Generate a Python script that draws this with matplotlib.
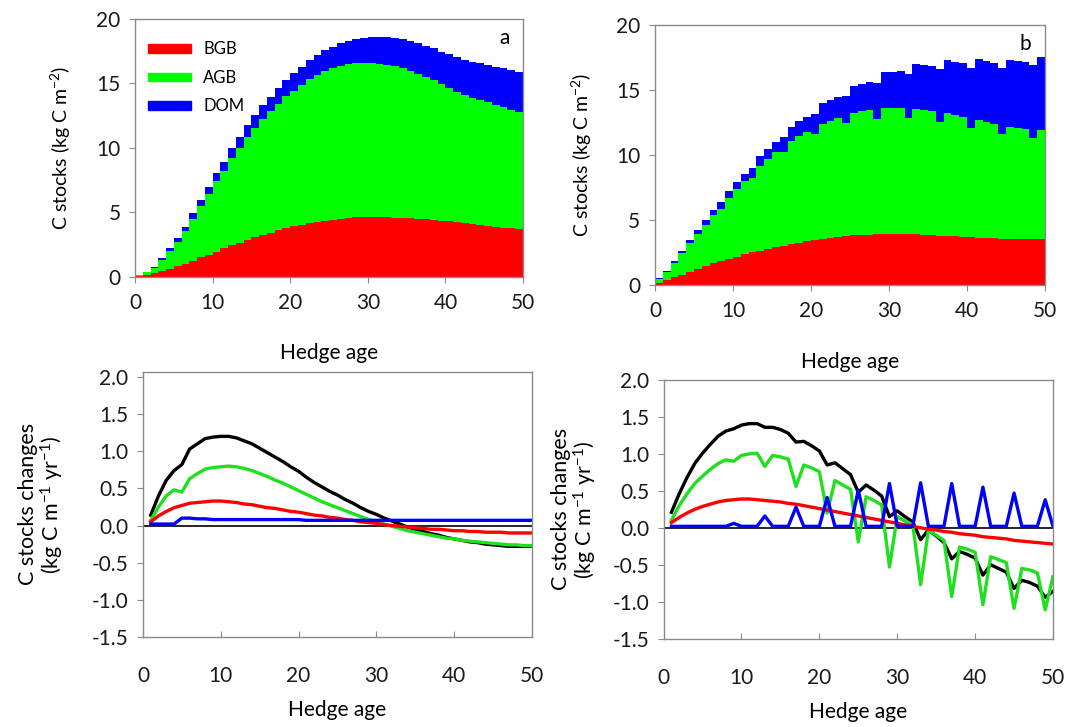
import matplotlib
matplotlib.use("Agg")
import matplotlib.pyplot as plt
import numpy as np
from matplotlib.patches import Patch

plt.rcParams['font.family'] = ['Lato', 'DejaVu Sans']
plt.rcParams['axes.unicode_minus'] = False
plt.rcParams['mathtext.fontset'] = 'custom'
plt.rcParams['mathtext.rm'] = 'Lato'
plt.rcParams['mathtext.it'] = 'Lato:italic'

# ── data ──
age = np.arange(1, 51)

# (a) stocks, kg C m-2
bgb_a = [0.03, 0.10, 0.25, 0.42, 0.60, 0.80, 1.00, 1.25, 1.50, 1.72,
         1.95, 2.20, 2.42, 2.65, 2.85, 3.05, 3.25, 3.42, 3.60, 3.75,
         3.90, 4.03, 4.15, 4.26, 4.35, 4.43, 4.50, 4.55, 4.59, 4.61,
         4.62, 4.62, 4.60, 4.58, 4.55, 4.52, 4.48, 4.44, 4.39, 4.34,
         4.28, 4.22, 4.16, 4.09, 4.02, 3.95, 3.88, 3.81, 3.74, 3.67]
agb_a = [0.08, 0.24, 0.43, 0.85, 1.40, 1.90, 2.55, 3.26, 3.97, 4.71,
         5.44, 6.01, 6.76, 7.35, 7.99, 8.48, 8.99, 9.39, 9.79, 10.22,
         10.51, 10.83, 11.16, 11.36, 11.60, 11.71, 11.84, 11.92, 11.95, 11.98,
         11.93, 11.87, 11.83, 11.77, 11.63, 11.45, 11.25, 11.02, 10.83, 10.56,
         10.36, 10.12, 9.92, 9.80, 9.68, 9.56, 9.44, 9.32, 9.20, 9.08]
dom_a = [0.02, 0.05, 0.10, 0.15, 0.20, 0.27, 0.33, 0.40, 0.47, 0.55,
         0.62, 0.70, 0.77, 0.85, 0.92, 1.00, 1.07, 1.14, 1.21, 1.28,
         1.35, 1.42, 1.49, 1.56, 1.62, 1.69, 1.75, 1.82, 1.88, 1.94,
         2.00, 2.06, 2.12, 2.18, 2.24, 2.30, 2.36, 2.42, 2.48, 2.54,
         2.60, 2.66, 2.72, 2.78, 2.84, 2.90, 2.96, 3.02, 3.08, 3.14]

# (b) stocks, kg C m-2
bgb_b = [0.15, 0.40, 0.60, 0.80, 1.00, 1.22, 1.45, 1.67, 1.85, 2.02,
         2.18, 2.35, 2.50, 2.63, 2.76, 2.89, 3.01, 3.13, 3.25, 3.37,
         3.46, 3.55, 3.63, 3.70, 3.76, 3.81, 3.85, 3.88, 3.91, 3.92,
         3.93, 3.93, 3.91, 3.89, 3.86, 3.83, 3.80, 3.77, 3.74, 3.71,
         3.67, 3.64, 3.61, 3.59, 3.57, 3.55, 3.54, 3.53, 3.52, 3.51]
agb_b = [0.30, 0.60, 1.10, 1.65, 2.20, 2.73, 3.20, 3.68, 4.00, 4.68,
         5.17, 5.65, 5.75, 6.52, 6.94, 7.31, 7.24, 7.92, 8.20, 8.43,
         8.14, 8.85, 9.02, 9.15, 8.69, 9.39, 9.50, 9.57, 8.89, 9.68,
         9.69, 9.69, 8.94, 9.66, 9.62, 9.57, 8.75, 9.43, 9.34, 9.24,
         8.40, 9.06, 8.94, 8.81, 8.01, 8.60, 8.51, 8.44, 7.80, 8.39]
dom_b = [0.05, 0.10, 0.15, 0.20, 0.25, 0.30, 0.35, 0.40, 0.50, 0.52,
         0.54, 0.56, 0.75, 0.77, 0.79, 0.81, 1.10, 1.12, 1.14, 1.16,
         1.55, 1.57, 1.59, 1.61, 2.10, 2.12, 2.14, 2.16, 2.75, 2.77,
         2.79, 2.81, 3.40, 3.42, 3.44, 3.46, 4.05, 4.07, 4.09, 4.11,
         4.65, 4.67, 4.69, 4.71, 5.15, 5.17, 5.19, 5.21, 5.60, 5.62]

# (c) stock changes, kg C m-1 yr-1
tot_c = [0.14, 0.40, 0.61, 0.74, 0.82, 1.03, 1.10, 1.17, 1.19, 1.20,
         1.20, 1.18, 1.14, 1.10, 1.04, 0.98, 0.92, 0.86, 0.79, 0.73,
         0.65, 0.58, 0.52, 0.46, 0.41, 0.35, 0.30, 0.24, 0.19, 0.15,
         0.10, 0.06, 0.02, -0.02, -0.05, -0.08, -0.11, -0.13, -0.16, -0.18,
         -0.20, -0.22, -0.23, -0.25, -0.26, -0.27, -0.28, -0.28, -0.28, -0.28]
agb_c = [0.07, 0.25, 0.40, 0.48, 0.45, 0.63, 0.70, 0.76, 0.78, 0.79,
         0.80, 0.79, 0.77, 0.74, 0.70, 0.66, 0.61, 0.57, 0.52, 0.47,
         0.42, 0.37, 0.32, 0.28, 0.24, 0.20, 0.16, 0.12, 0.08, 0.05,
         0.02, -0.01, -0.04, -0.07, -0.09, -0.11, -0.13, -0.15, -0.17, -0.18,
         -0.20, -0.21, -0.22, -0.23, -0.24, -0.25, -0.26, -0.26, -0.27, -0.27]
bgb_c = [0.05, 0.13, 0.19, 0.24, 0.27, 0.30, 0.31, 0.32, 0.33, 0.33,
         0.32, 0.31, 0.29, 0.28, 0.26, 0.24, 0.23, 0.21, 0.19, 0.18,
         0.16, 0.14, 0.13, 0.11, 0.10, 0.08, 0.07, 0.05, 0.04, 0.03,
         0.01, 0.00, -0.01, -0.02, -0.03, -0.04, -0.05, -0.05, -0.06, -0.07,
         -0.07, -0.08, -0.08, -0.09, -0.09, -0.09, -0.10, -0.10, -0.10, -0.10]
dom_c = [0.02, 0.02, 0.02, 0.02, 0.10, 0.10, 0.09, 0.09, 0.08, 0.08,
         0.08, 0.08, 0.08, 0.08, 0.08, 0.08, 0.08, 0.08, 0.08, 0.08,
         0.07, 0.07, 0.07, 0.07, 0.07, 0.07, 0.07, 0.07, 0.07, 0.07,
         0.07, 0.07, 0.07, 0.07, 0.07, 0.07, 0.07, 0.07, 0.07, 0.07,
         0.07, 0.07, 0.07, 0.07, 0.07, 0.07, 0.07, 0.07, 0.07, 0.07]

# (d) stock changes, kg C m-1 yr-1
tot_d = [0.21, 0.46, 0.68, 0.87, 1.01, 1.13, 1.24, 1.31, 1.34, 1.39,
         1.41, 1.41, 1.36, 1.36, 1.33, 1.28, 1.16, 1.17, 1.11, 1.04,
         0.85, 0.88, 0.80, 0.72, 0.48, 0.58, 0.51, 0.43, 0.15, 0.23,
         0.15, 0.08, -0.16, -0.03, -0.11, -0.20, -0.42, -0.32, -0.36, -0.41,
         -0.64, -0.50, -0.55, -0.60, -0.82, -0.71, -0.74, -0.79, -0.94, -0.86]
agb_d = [0.10, 0.30, 0.46, 0.60, 0.70, 0.79, 0.87, 0.92, 0.90, 0.98,
         1.00, 1.01, 0.83, 0.98, 0.96, 0.93, 0.56, 0.85, 0.81, 0.76,
         0.20, 0.64, 0.58, 0.52, -0.19, 0.42, 0.37, 0.31, -0.53, 0.15,
         0.09, 0.04, -0.77, -0.03, -0.10, -0.17, -0.93, -0.26, -0.29, -0.33,
         -1.04, -0.39, -0.43, -0.47, -1.09, -0.55, -0.57, -0.61, -1.11, -0.66]
bgb_d = [0.07, 0.14, 0.20, 0.25, 0.29, 0.32, 0.35, 0.37, 0.38, 0.39,
         0.39, 0.38, 0.37, 0.36, 0.35, 0.33, 0.32, 0.30, 0.28, 0.26,
         0.24, 0.22, 0.20, 0.18, 0.16, 0.14, 0.12, 0.10, 0.08, 0.06,
         0.04, 0.02, 0.00, -0.02, -0.03, -0.05, -0.06, -0.08, -0.09, -0.10,
         -0.12, -0.13, -0.14, -0.15, -0.17, -0.18, -0.19, -0.20, -0.21, -0.22]
dom_d = [0.02, 0.02, 0.02, 0.02, 0.02, 0.02, 0.02, 0.02, 0.06, 0.02,
         0.02, 0.02, 0.16, 0.02, 0.02, 0.02, 0.28, 0.02, 0.02, 0.02,
         0.41, 0.02, 0.02, 0.02, 0.51, 0.02, 0.02, 0.02, 0.60, 0.02,
         0.02, 0.02, 0.61, 0.02, 0.02, 0.02, 0.60, 0.02, 0.02, 0.02,
         0.55, 0.02, 0.02, 0.02, 0.47, 0.02, 0.02, 0.02, 0.38, 0.02]

RED, GREEN, BLUE = '#ff0000', '#00ff00', '#0000ff'
LGREEN = '#1ee01e'
GRAY = '#8a8a8a'
FS = 15


def style(ax, xpad, xdir, xlabelpad):
    for s in ax.spines.values():
        s.set_color(GRAY); s.set_linewidth(1.0)
    ax.tick_params(colors=GRAY, labelcolor='#1a1a1a', labelsize=FS, length=4)
    ax.tick_params(axis='y', direction='out', pad=6.5)
    ax.tick_params(axis='x', direction=xdir, pad=xpad)
    ax.set_xlim(0, 50); ax.set_xticks(range(0, 51, 10))
    ax.set_xlabel('Hedge age', fontsize=FS, labelpad=xlabelpad)


def stock_panel(ax, bgb, agb, dom, tag, ylab_x):
    x = age - 0.5
    bgb, agb, dom = map(np.asarray, (bgb, agb, dom))
    ax.bar(x, bgb, width=1.0, color=RED, linewidth=0)
    ax.bar(x, agb, width=1.0, bottom=bgb, color=GREEN, linewidth=0)
    ax.bar(x, dom, width=1.0, bottom=bgb + agb, color=BLUE, linewidth=0)
    style(ax, 7.5, 'out', 22)
    ax.set_ylim(0, 20); ax.set_yticks(range(0, 21, 5))
    ax.set_ylabel('C stocks (kg C m$^{-2}$)', fontsize=14)
    ax.yaxis.set_label_coords(ylab_x, 0.5)
    ax.text(0.965, 0.965, tag, transform=ax.transAxes, ha='right', va='top', fontsize=FS)


def change_panel(ax, tot, agb, bgb, dom, ytop, ylab_x):
    ax.axhline(0, color='black', lw=1.2, zorder=1)
    ax.plot(age, tot, color='black', lw=2.4)
    ax.plot(age, agb, color=LGREEN, lw=2.4)
    ax.plot(age, bgb, color=RED, lw=2.4)
    ax.plot(age, dom, color=BLUE, lw=2.4)
    style(ax, 21, 'in', 10)
    ax.set_ylim(-1.5, ytop)
    ax.set_yticks(np.arange(-1.5, 2.01, 0.5))
    ax.yaxis.set_major_formatter(matplotlib.ticker.FormatStrFormatter('%.1f'))
    ax.set_ylabel('C stocks changes\n(kg C m$^{-1}$ yr$^{-1}$)', fontsize=15.5,
                  linespacing=1.05)
    ax.yaxis.set_label_coords(ylab_x, 0.5)


fig = plt.figure(figsize=(10.7, 7.27), dpi=100)
ax_a = fig.add_axes([0.1262, 0.6194, 0.3626, 0.3549])
ax_b = fig.add_axes([0.6121, 0.6080, 0.3645, 0.3576])
ax_c = fig.add_axes([0.1336, 0.1238, 0.3636, 0.3649])
ax_d = fig.add_axes([0.6202, 0.1215, 0.3639, 0.3558])

stock_panel(ax_a, bgb_a, agb_a, dom_a, 'a', -0.16)
stock_panel(ax_b, bgb_b, agb_b, dom_b, 'b', -0.156)
change_panel(ax_c, tot_c, agb_c, bgb_c, dom_c, 2.07, -0.198)
change_panel(ax_d, tot_d, agb_d, bgb_d, dom_d, 2.0, -0.166)

handles = [Patch(color=RED, label='BGB'), Patch(color=GREEN, label='AGB'),
           Patch(color=BLUE, label='DOM')]
ax_a.legend(handles=handles, loc='upper left', frameon=False, fontsize=12,
            handlelength=2.6, handleheight=0.45, handletextpad=0.7,
            labelspacing=0.75, bbox_to_anchor=(-0.005, 0.97))

fig.savefig('out.png', dpi=100)
